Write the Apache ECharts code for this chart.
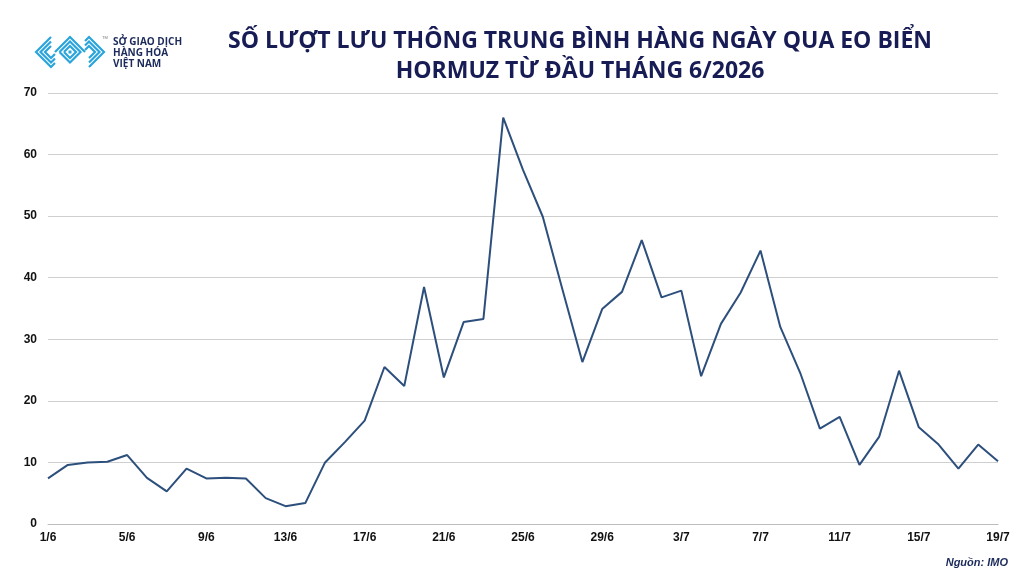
<!DOCTYPE html>
<html>
<head>
<meta charset="utf-8">
<script src="https://cdn.jsdelivr.net/npm/echarts@6/dist/echarts.min.js"></script>
<style>
html,body{margin:0;padding:0;background:#fff;}
#chart{width:1024px;height:576px;}
</style>
</head>
<body>
<div id="chart"></div>
<script>
// Data
const months = [
  {m: 6, days: 30},
  {m: 7, days: 19}
];
const categories = [];
for (const mo of months) { for (let d = 1; d <= mo.days; d++) categories.push(d + '/' + mo.m); }
const values = [
  7.4, 9.6, 10.0, 10.1, 11.2, 7.5, 5.3, 9.0, 7.4, 7.5,
  7.4, 4.2, 2.9, 3.4, 10.0, 13.3, 16.8, 25.5, 22.4, 38.5,
  23.8, 32.8, 33.3, 66.0, 57.5, 49.9, 38.0, 26.3, 34.9, 37.7,
  46.1, 36.8, 37.9, 24.0, 32.5, 37.6, 44.4, 32.0, 24.6, 15.5,
  17.4, 9.6, 14.2, 24.9, 15.7, 12.9, 9.0, 12.9, 10.2
];
const titleLines = ['SỐ LƯỢT LƯU THÔNG TRUNG BÌNH HÀNG NGÀY QUA EO BIỂN', 'HORMUZ TỪ ĐẦU THÁNG 6/2026'];
const logoLines = ['SỞ GIAO DỊCH', 'HÀNG HÓA', 'VIỆT NAM'];
const sourceText = 'Nguồn: IMO';

const chart = echarts.init(document.getElementById('chart'));

// logo shapes (decorative)
const logoColor = '#2ba4dc';
const logoShapes = [];
const lw = 2.2;
// left "<" chevrons
for (let i = 0; i < 3; i++) {
  const vx = 36 + i * 4.5, cy = 52, h = 15 - i * 4.5;
  logoShapes.push({type: 'polyline', shape: {points: [[vx + h, cy - h], [vx, cy], [vx + h, cy + h], [vx + h + 4, cy + h - 4]]},
    style: {stroke: logoColor, lineWidth: lw, fill: null}});
}
// middle diamonds
[[70, 52, 15], [70, 52, 10.5], [70, 52, 6]].forEach(function (d, i) {
  const cx = d[0], cy = d[1], h = d[2];
  const pts = i === 0 ? [[cx - h, cy], [cx, cy - h], [cx + h, cy]] : [[cx - h, cy], [cx, cy - h], [cx + h, cy], [cx, cy + h], [cx - h, cy]];
  logoShapes.push({type: 'polyline', shape: {points: pts}, style: {stroke: logoColor, lineWidth: lw, fill: null}});
});
logoShapes.push({type: 'rect', shape: {x: 68.5, y: 50.5, width: 3, height: 3}, style: {fill: logoColor}});
// right ">" chevrons
for (let i = 0; i < 3; i++) {
  const vx = 104 - i * 4.5, cy = 52, h = 15 - i * 4.5;
  logoShapes.push({type: 'polyline', shape: {points: [[vx - h - 4, cy - h + 4], [vx - h, cy - h], [vx, cy], [vx - h, cy + h]]},
    style: {stroke: logoColor, lineWidth: lw, fill: null}});
}

const option = {
  backgroundColor: '#fff',
  animation: false,
  grid: {left: 48, right: 26, top: 93, bottom: 52, containLabel: false},
  xAxis: {
    type: 'category',
    data: categories,
    boundaryGap: false,
    axisLine: {show: true, lineStyle: {color: '#bdbdbd', width: 1}},
    axisTick: {show: false},
    axisLabel: {
      interval: 3,
      color: '#111',
      fontFamily: 'Liberation Sans, Arial, sans-serif',
      fontWeight: 'bold',
      fontSize: 12,
      margin: 8
    },
    splitLine: {show: false}
  },
  yAxis: {
    type: 'value',
    min: 0, max: 70, interval: 10,
    axisLine: {show: false},
    axisTick: {show: false},
    axisLabel: {
      color: '#111',
      fontFamily: 'Liberation Sans, Arial, sans-serif',
      fontWeight: 'bold',
      fontSize: 12,
      margin: 11
    },
    splitLine: {lineStyle: {color: '#cfcfcf', width: 1}}
  },
  series: [{
    type: 'line',
    data: values,
    symbol: 'none',
    lineStyle: {color: '#2d4f7c', width: 2},
    itemStyle: {color: '#2d4f7c'}
  }],
  graphic: [
    {
      type: 'text', x: 580, y: 26,
      style: {
        text: titleLines.join('\n'),
        textAlign: 'center',
        fill: '#171c55',
        font: 'bold 23px "Open Sans", sans-serif',
        lineHeight: 30
      }
    },
    {
      type: 'text', x: 113, y: 37,
      style: {
        text: logoLines.join('\n'),
        fill: '#1b2a5a',
        font: 'bold 10px "Open Sans", sans-serif',
        lineHeight: 11
      }
    },
    {
      type: 'text', x: 102, y: 36,
      style: {text: 'TM', fill: '#777', font: '4px sans-serif'}
    },
    {
      type: 'text', x: 1008, y: 557,
      style: {
        text: sourceText,
        textAlign: 'right',
        fill: '#1b2a5a',
        font: 'italic bold 11px "Liberation Sans", Arial, sans-serif'
      }
    },
    {type: 'group', children: logoShapes}
  ]
};
chart.setOption(option);
</script>
</body>
</html>
